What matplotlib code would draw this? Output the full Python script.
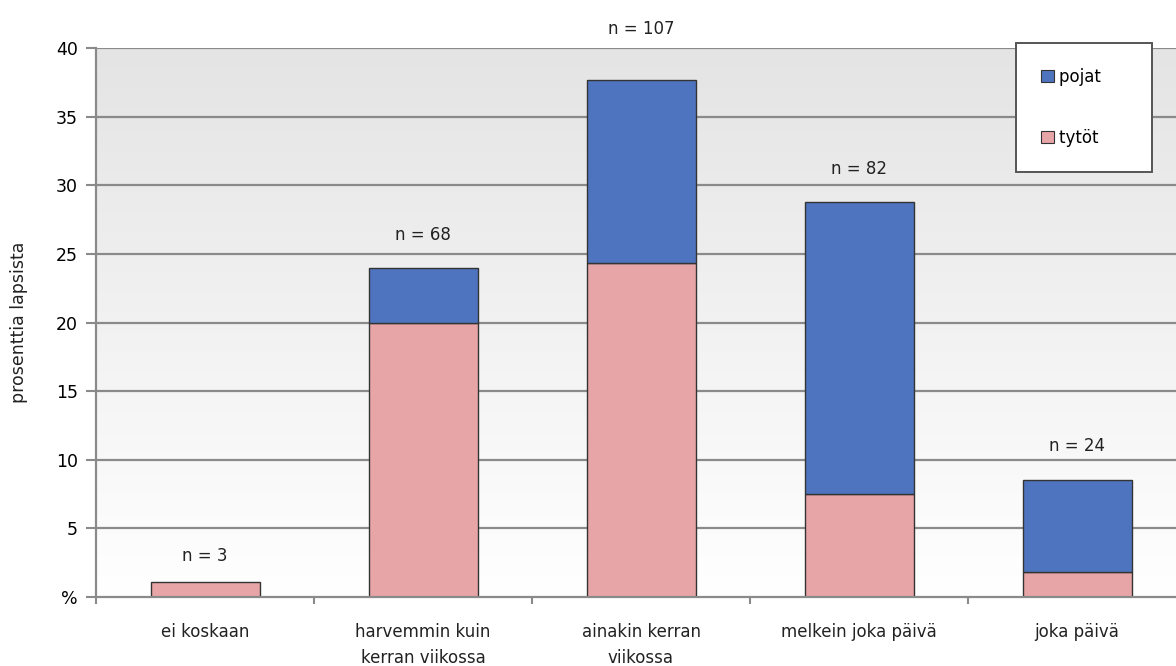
import matplotlib.pyplot as plt
import numpy as np
from matplotlib.colors import LinearSegmentedColormap
from matplotlib.patches import Patch

categories = ['ei koskaan', 'harvemmin kuin\nkerran viikossa', 'ainakin kerran\nviikossa',
              'melkein joka päivä', 'joka päivä']
tytot = [1.1, 20.0, 24.3, 7.5, 1.8]
pojat = [0.0, 4.0, 13.4, 21.3, 6.7]
n_labels = ['n = 3', 'n = 68', 'n = 107', 'n = 82', 'n = 24']

pink = '#e8a5a8'
blue = '#4f74bf'
grid_col = '#8a8a8a'

plt.rcParams['font.family'] = 'DejaVu Sans'

fig = plt.figure(figsize=(11.76, 6.66), dpi=100)
ax = fig.add_axes([96 / 1176, 69 / 666, 1090 / 1176, 549 / 666])

x = np.arange(len(categories))

# gray-to-white background gradient
grad = np.linspace(0, 1, 256).reshape(-1, 1)
cmap = LinearSegmentedColormap.from_list('bg', ['#ffffff', '#e4e4e4'])
ax.imshow(grad, extent=[-0.5, 4.5, 0, 40], origin='lower', aspect='auto',
          cmap=cmap, zorder=0)

for y in range(5, 41, 5):
    ax.axhline(y, color=grid_col, lw=1.6, zorder=1)

ax.bar(x, tytot, width=0.5, color=pink, edgecolor='#333333', lw=1.0, zorder=2)
pb = ax.bar(x, pojat, width=0.5, bottom=tytot, color=blue, edgecolor='#333333',
            lw=1.0, zorder=2)
pb[0].set_visible(False)

# label offsets in points (the top one sits above the plot frame)
offsets = [12, 17, 30, 17, 18]
for xi, t, p, lab, off in zip(x, tytot, pojat, n_labels, offsets):
    ax.annotate(lab, (xi, t + p), xytext=(0, off), textcoords='offset points',
                ha='center', va='bottom', fontsize=12, color='#222222',
                annotation_clip=False)

ax.set_xlim(-0.5, 4.5)
ax.set_ylim(0, 40)
ax.set_yticks(range(0, 41, 5))
ax.set_yticklabels(['%'] + [str(v) for v in range(5, 41, 5)], fontsize=12.5)
ax.set_xticks(x)
ax.set_xticklabels(categories, fontsize=12, color='#222222', linespacing=1.55)
ax.set_xticks(np.arange(-0.5, 4.6, 1), minor=True)
ax.tick_params(axis='x', which='major', length=0, pad=19)
ax.tick_params(axis='x', which='minor', length=5, color=grid_col, width=1.5)
ax.tick_params(axis='y', length=7, color=grid_col, width=1.5, pad=6)
ax.set_ylabel('prosenttia lapsista', fontsize=12.5, labelpad=20, color='#222222')

for s in ['top', 'right']:
    ax.spines[s].set_visible(False)
for s in ['left', 'bottom']:
    ax.spines[s].set_color(grid_col)
    ax.spines[s].set_linewidth(1.6)

handles = [Patch(facecolor=blue, edgecolor='#333333', lw=0.8),
           Patch(facecolor=pink, edgecolor='#333333', lw=0.8)]
leg = ax.legend(handles, ['pojat     ', 'tytöt     '], loc='upper right',
                bbox_to_anchor=(1152 / 1090 - 96 / 1090, 1.01), fontsize=12,
                handlelength=0.75, handleheight=0.75, handletextpad=0.3,
                labelspacing=2.6, borderpad=1.5, fancybox=False,
                edgecolor='#555555', framealpha=1, borderaxespad=0)
leg.get_frame().set_linewidth(1.4)

fig.savefig('out.png', dpi=100)
